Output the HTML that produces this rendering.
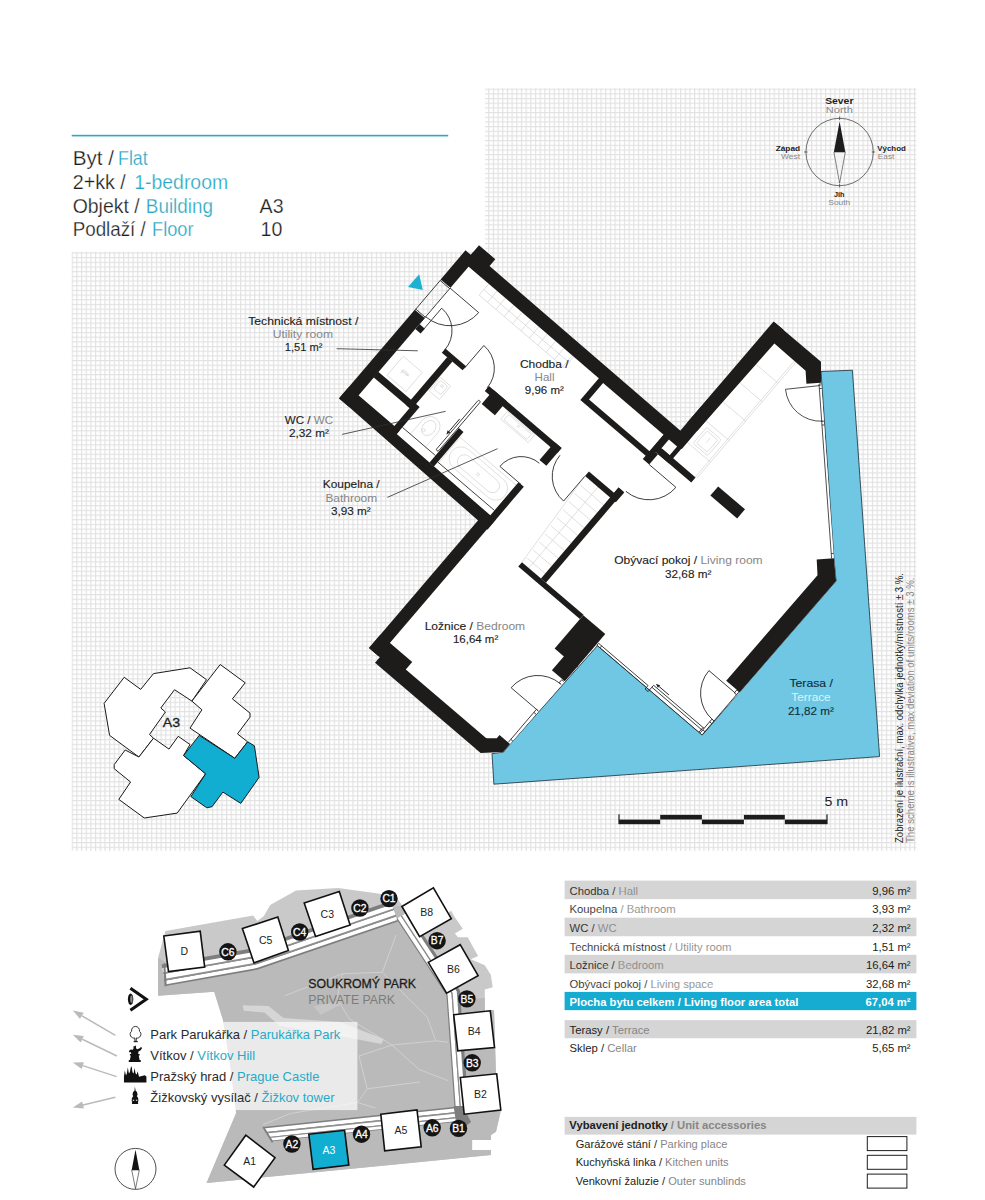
<!DOCTYPE html>
<html><head><meta charset="utf-8"><title>Flat A3</title>
<style>
html,body{margin:0;padding:0;background:#fff;}
body{width:985px;height:1200px;overflow:hidden;position:relative;font-family:"Liberation Sans",sans-serif;}
svg{position:absolute;left:0;top:0;}
text{font-family:"Liberation Sans",sans-serif;}
.k{fill:#1d1d1b}.g{fill:#868686}.c{fill:#2aa7c3}
.b{font-weight:bold}
.thin{fill:none;stroke:#222;stroke-width:0.8}
.furn{fill:none;stroke:#d2d2d2;stroke-width:0.65}
</style></head><body>
<svg width="985" height="1200" viewBox="0 0 985 1200">
<defs>
<pattern id="grid" x="71.6" y="88.6" width="4.68" height="4.68" patternUnits="userSpaceOnUse">
<path d="M0.5 0V4.68M0 0.5H4.68" stroke="#e2e2e2" stroke-width="1.4" fill="none"/>
</pattern>
</defs>
<rect width="985" height="1200" fill="#fff"/>

<polygon points="485,88.3 916.3,88.3 916.3,851 71.6,851 71.6,251.8 485,251.8" fill="url(#grid)"/>
<rect x="71.7" y="134.8" width="376.5" height="1.6" fill="#2aa9c3"/>
<text x="72.7" y="165.1" font-size="19.6" class="k" textLength="41.4" lengthAdjust="spacingAndGlyphs" stroke="#fff" stroke-width="0.25" paint-order="fill stroke">Byt /</text>
<text x="118.0" y="165.1" font-size="19.6" class="c" textLength="29.7" lengthAdjust="spacingAndGlyphs" stroke="#fff" stroke-width="0.25" paint-order="fill stroke">Flat</text>
<text x="72.7" y="188.8" font-size="19.6" class="k" textLength="53.1" lengthAdjust="spacingAndGlyphs" stroke="#fff" stroke-width="0.25" paint-order="fill stroke">2+kk /</text>
<text x="134.3" y="188.8" font-size="19.6" class="c" textLength="93.8" lengthAdjust="spacingAndGlyphs" stroke="#fff" stroke-width="0.25" paint-order="fill stroke">1-bedroom</text>
<text x="72.7" y="212.5" font-size="19.6" class="k" textLength="67" lengthAdjust="spacingAndGlyphs" stroke="#fff" stroke-width="0.25" paint-order="fill stroke">Objekt /</text>
<text x="145.8" y="212.5" font-size="19.6" class="c" textLength="67.2" lengthAdjust="spacingAndGlyphs" stroke="#fff" stroke-width="0.25" paint-order="fill stroke">Building</text>
<text x="259.6" y="212.5" font-size="19.6" class="k" text-anchor="start" stroke="#fff" stroke-width="0.25" paint-order="fill stroke">A3</text>
<text x="72.7" y="236.2" font-size="19.6" class="k" textLength="73.1" lengthAdjust="spacingAndGlyphs" stroke="#fff" stroke-width="0.25" paint-order="fill stroke">Podlaží /</text>
<text x="152.1" y="236.2" font-size="19.6" class="c" textLength="41.4" lengthAdjust="spacingAndGlyphs" stroke="#fff" stroke-width="0.25" paint-order="fill stroke">Floor</text>
<text x="282.4" y="236.2" font-size="19.6" class="k" text-anchor="end" stroke="#fff" stroke-width="0.25" paint-order="fill stroke">10</text>
<polygon points="597.5,645.6 702.5,734.8 836.1,581.0 833.9,558.3 821.0,371.5 852.4,370.2 879.6,756.6 493.9,784.2 492.0,753.7 503.4,752.1 510.2,744.0" fill="#6fc7e3" stroke="#1b2a33" stroke-width="0.8" stroke-linejoin="miter"/>
<polygon points="465.5,250.3 470.8,254.8 479.0,245.2 495.3,259.2 489.5,266.0 680.2,430.8 774.7,322.4 821.0,361.7 821.0,382.8 833.9,558.3 836.1,581.0 739.7,692.2 702.0,734.4 596.7,644.5 510.1,743.9 503.4,752.1 480.6,753.2 375.0,662.8 379.7,657.3 369.0,648.1 478.3,520.6 339.0,398.3 414.8,309.7 424.4,317.9 450.3,287.6 440.6,279.4" fill="#fff"/>
<g class="furn" transform="rotate(40.5)">
<path d="M556,-101.5V-86.8H668V-101.5M556,-94H668"/>
<path d="M567,-101.5V-86.8M578,-101.5V-86.8M589,-101.5V-86.8M600,-101.5V-86.8M611,-101.5V-86.8M622,-101.5V-86.8M633,-101.5V-86.8M644,-101.5V-86.8M655,-101.5V-86.8M666,-101.5V-86.8"/>
<path d="M840.5,-241.5V-89M838.5,-241.5V-89"/>
<path d="M810,-214H840.5M810,-189.5H840.5M810,-164H840.5M810,-138.5H840.5M810,-110H840.5"/>
<rect x="815" y="-134" width="19" height="21" rx="1.5"/><rect x="817.5" y="-131.5" width="14" height="16" rx="1"/><path d="M824.5,-128v6"/>
<path d="M754,-18L762,88.5M771,-18V88.5"/>
<path d="M756.8,-8H787M757.5,2H787M758.2,12H787M759.0,22H787M759.8,32H787M760.5,42H787M761.2,52H787M762.0,62H787M762.8,72H787M763.5,82H787"/>
<path d="M634,67V33.7H707.5"/><rect x="636.5" y="37.6" width="69.5" height="23.6" rx="11.8"/><rect x="646" y="42.5" width="51" height="14" rx="7"/><circle cx="671.7" cy="50.3" r="1.4"/>
<path d="M633,67H707.5" stroke="#222" stroke-width="0.8"/>
<rect x="653" y="-16.5" width="36" height="10"/><rect x="656" y="-15" width="30" height="7" rx="1"/><circle cx="671" cy="-12.5" r="1"/>
<path d="M594,63.6V45a10,10 0 0 1 20,0V63.6"/><ellipse cx="604" cy="47" rx="6.3" ry="8.3"/><circle cx="601.5" cy="52" r="1.6"/>
<rect x="580" y="1" width="13.5" height="17.5" rx="1"/><rect x="582" y="3" width="9.5" height="11" rx="2"/><circle cx="586.8" cy="6.5" r="1.3"/>
<rect x="538" y="9" width="25" height="25"/>
<path d="M583.5,63.6H627" stroke="#222" stroke-width="0.8"/>
</g>
<text x="400.9" y="371.3" font-size="5.5" fill="#c6c6c6" transform="rotate(40.5 400.9 371.3)">p/w</text>
<g fill="#1e1c1b">
<g transform="rotate(40.5)">
<rect x="516.5" y="-112" width="13.0" height="38.3"/>
<rect x="523.5" y="-124.6" width="21.5" height="22.6"/>
<polygon points="523.5,-115.8 809.5,-114.3 809.5,-101 523.5,-101.7"/>
<rect x="516.5" y="-33.9" width="13.0" height="116.7"/>
<rect x="529.5" y="-26" width="7.0" height="6.5"/>
<polygon points="516.5,67.7 583.5,67.7 583.5,72.3 707.5,73.4 714.5,73.4 714.5,86 702,85.3 516.5,82.7"/>
<rect x="529" y="37" width="49.8" height="7.3"/>
<rect x="572" y="-19" width="6.8" height="63.3"/>
<rect x="565" y="-24.2" width="27.3" height="5.4"/>
<rect x="576.5" y="37" width="7.0" height="36.0"/>
<rect x="622.5" y="-24" width="95.5" height="6.4"/>
<rect x="628.6" y="-24" width="17.4" height="18.3"/>
<rect x="709" y="-24" width="9.0" height="23.4"/>
<rect x="627" y="27.5" width="6.0" height="45.5"/>
<rect x="707.5" y="30" width="7.0" height="56.0"/>
<rect x="701.5" y="82.5" width="12.5" height="170.7"/>
<rect x="701.5" y="235.7" width="41.9" height="17.5"/>
<rect x="715.6" y="245.5" width="134.4" height="15.0"/>
<polygon points="849,245.5 849.3,245.5 857.2,238.7 857.2,234.5 871,234.5 871.2,245 854.6,260.5 849,260.5"/>
<rect x="701" y="-103" width="91.0" height="30.2"/>
<rect x="707.3" y="-100.5" width="79.6" height="21.7" fill="#fff"/>
<rect x="787" y="-103" width="22.5" height="21.0"/>
<rect x="794" y="-100.3" width="10.8" height="11.5" fill="#fff"/>
<rect x="795" y="-88.7" width="44.0" height="6.7"/>
<rect x="786.9" y="-82" width="8.4" height="13.6"/>
<rect x="797" y="-258" width="13.0" height="156.3"/>
<rect x="754" y="-24" width="39.5" height="6.0"/>
<rect x="787" y="-31" width="7.5" height="13.0"/>
<rect x="787" y="-31" width="6.5" height="119.5"/>
<rect x="762" y="88.5" width="81.0" height="5.7"/>
<rect x="843" y="89" width="29.0" height="44.0"/>
<rect x="855" y="131" width="17.0" height="20.3"/>
<rect x="862" y="-96.5" width="35.3" height="12.0"/>
</g>
<polygon points="774.7,322.4 821.0,361.7 821.0,382.8 806.4,383.7 805.6,370.7 774.4,343.5 697.1,431.0 687.2,422.6"/>
<polygon points="816.7,559.4 833.9,558.3 836.1,581.0 739.7,692.2 726.2,680.7 817.5,575.3"/>
</g>
<g class="thin" transform="rotate(40.5)">
<path d="M529.4,-73.2L567,-73.2A37.6,37.6 0 0 1 529.4,-35.6"/>
<path d="M516.9,-73.7V-33.9M529.4,-73.7V-26M529.4,-72.6H516.9M529.4,-35H516.9"/>
<path d="M536,-23L536,-52.5A29.5,29.5 0 0 1 565.5,-23"/>
<path d="M592.3,-21.5L592.3,-51.5A30.0,30.0 0 0 1 622.3,-21.5"/>
<path d="M711,30L683,30A28.0,28.0 0 0 1 711,2"/>
<path d="M754,-17.5L754,15A32.5,32.5 0 0 1 721.5,-17.5"/>
<path d="M795,-68.4L830.5,-68.4A35.5,35.5 0 0 1 795,-32.9"/>
<path d="M870.3,191L835.3,191A35.0,35.0 0 0 1 870.3,156"/>
<path d="M868.6,191V234.4M868.6,152V156M868.6,191h2.8M868.6,195h2.8M868.6,230.5h2.8M868.6,152h2.8M868.6,156h2.8"/>
<path d="M1009.6,49.5L974.6,49.5A35.0,35.0 0 0 0 1009.6,84.5"/>
<path d="M1008.4,84.5V102.5M1011.2,46V102.5M1008.4,46V50M1008.4,46h2.8M1008.4,50h2.8M1008.4,84.5h2.8M1008.4,88h2.8M1008.4,98.5h2.8"/>
<path d="M873,100.4H938M873,103H1011.2M942,96.6H1008.4M942,99.2H1008.4M938,100.4v4.6h4v-8.4M873,100.4v2.6M877,100.4v2.6M1007,96.6v6"/>
<path d="M944,94H960" stroke-width="0.9"/><path d="M943,94l4,-1.8v3.6z" fill="#222" stroke="none"/>
<rect x="623.6" y="-6.7" width="2.7" height="65.6" rx="1.2"/>
<path d="M621.6,20V38" stroke-width="0.9"/><path d="M621.6,40.5l-1.7,-4h3.4z" fill="#222" stroke="none"/>
</g>
<g class="thin">
<path d="M820.5,385.5L785.5,389.3A35.4,35.4 0 0 0 822.6,421.2"/>
<path d="M819,384L831.6,558.6M819,384h2.4M819.4,388.5h2.4M821.6,421.2h2.4M821.9,425h2.4M831.2,553.5h2.4"/>
</g>
<text x="303.3" y="324.8" font-size="10.8" class="k" text-anchor="middle" textLength="110" lengthAdjust="spacingAndGlyphs" stroke="#1d1d1b" stroke-width="0.12">Technická místnost /</text>
<text x="302.9" y="338.2" font-size="10.8" class="g" text-anchor="middle" textLength="60.5" lengthAdjust="spacingAndGlyphs">Utility room</text>
<text x="303.6" y="351.2" font-size="10.8" class="k" text-anchor="middle" textLength="37.6" lengthAdjust="spacingAndGlyphs" stroke="#1d1d1b" stroke-width="0.12">1,51 m²</text>
<text x="309" y="423.9" font-size="10.8" class="k" text-anchor="middle" textLength="48.3" lengthAdjust="spacingAndGlyphs" stroke="#1d1d1b" stroke-width="0.12">WC / <tspan class="g" stroke="none">WC</tspan></text>
<text x="308.9" y="437.3" font-size="10.8" class="k" text-anchor="middle" textLength="40" lengthAdjust="spacingAndGlyphs" stroke="#1d1d1b" stroke-width="0.12">2,32 m²</text>
<text x="351.2" y="488.4" font-size="10.8" class="k" text-anchor="middle" textLength="56.8" lengthAdjust="spacingAndGlyphs" stroke="#1d1d1b" stroke-width="0.12">Koupelna /</text>
<text x="351.3" y="502" font-size="10.8" class="g" text-anchor="middle" textLength="51.8" lengthAdjust="spacingAndGlyphs">Bathroom</text>
<text x="350.8" y="515.2" font-size="10.8" class="k" text-anchor="middle" textLength="39.8" lengthAdjust="spacingAndGlyphs" stroke="#1d1d1b" stroke-width="0.12">3,93 m²</text>
<text x="544.3" y="367.8" font-size="10.8" class="k" text-anchor="middle" textLength="48.7" lengthAdjust="spacingAndGlyphs" stroke="#1d1d1b" stroke-width="0.12">Chodba /</text>
<text x="544.5" y="380.8" font-size="10.8" class="g" text-anchor="middle" textLength="20" lengthAdjust="spacingAndGlyphs">Hall</text>
<text x="544.3" y="394.1" font-size="10.8" class="k" text-anchor="middle" textLength="39" lengthAdjust="spacingAndGlyphs" stroke="#1d1d1b" stroke-width="0.12">9,96 m²</text>
<text x="688.4" y="563.8" font-size="10.8" class="k" text-anchor="middle" textLength="148.4" lengthAdjust="spacingAndGlyphs" stroke="#1d1d1b" stroke-width="0.12">Obývací pokoj / <tspan class="g" stroke="none">Living room</tspan></text>
<text x="688.2" y="577.8" font-size="10.8" class="k" text-anchor="middle" textLength="46.3" lengthAdjust="spacingAndGlyphs" stroke="#1d1d1b" stroke-width="0.12">32,68 m²</text>
<text x="474.9" y="629.5" font-size="10.8" class="k" text-anchor="middle" textLength="100.5" lengthAdjust="spacingAndGlyphs" stroke="#1d1d1b" stroke-width="0.12">Ložnice / <tspan class="g" stroke="none">Bedroom</tspan></text>
<text x="475.6" y="642.6" font-size="10.8" class="k" text-anchor="middle" textLength="45.3" lengthAdjust="spacingAndGlyphs" stroke="#1d1d1b" stroke-width="0.12">16,64 m²</text>
<text x="811.2" y="687.1" font-size="10.8" fill="#0e2f40" stroke="#0e2f40" stroke-width="0.12" text-anchor="middle" textLength="43.5" lengthAdjust="spacingAndGlyphs">Terasa /</text>
<text x="811" y="701.4" font-size="10.8" fill="#dff3fa" text-anchor="middle" textLength="39.3" lengthAdjust="spacingAndGlyphs">Terrace</text>
<text x="810.9" y="715.1" font-size="10.8" fill="#0e2f40" stroke="#0e2f40" stroke-width="0.12" text-anchor="middle" textLength="46" lengthAdjust="spacingAndGlyphs">21,82 m²</text>
<path d="M336.6,348.7L417.8,350.8M342.1,434.4L445.6,411.3M387.4,497.4L497.5,448.7" fill="none" stroke="#2e2e2e" stroke-width="0.8"/>
<polygon points="419.2,274.3 408,286.9 422.8,289.9" fill="#1fb1d1"/>
<g fill="#1e1c1b"><rect x="618.4" y="814.3" width="1.2" height="9.8"/><rect x="826.4" y="814.3" width="1.2" height="9.8"/>
<rect x="619" y="819.6" width="41.2" height="4.6"/>
<rect x="660.2" y="814.9" width="41.7" height="4.6"/>
<rect x="701.9" y="819.6" width="42.0" height="4.6"/>
<rect x="743.9" y="814.9" width="40.9" height="4.6"/>
<rect x="784.8" y="819.6" width="42.2" height="4.6"/>
</g>
<text x="824.4" y="806.4" font-size="13" class="k" text-anchor="start" textLength="23.7" lengthAdjust="spacingAndGlyphs">5 m</text>
<text transform="translate(902.7,843) rotate(-90)" font-size="10.2" class="k" textLength="270" lengthAdjust="spacingAndGlyphs">Zobrazení je ilustrační, max. odchylka jednotky/místností ± 3 %.</text>
<text transform="translate(913.8,843) rotate(-90)" font-size="10.2" class="g" textLength="265.5" lengthAdjust="spacingAndGlyphs">The scheme is illustrative, max deviation of units/rooms ± 3 %.</text>
<g fill="none" stroke="#333" stroke-width="0.7"><circle cx="839.6" cy="152" r="33.7"/><path d="M839.6,116.5v3.5M839.6,184v3.5M804,152h3.5M871.7,152h3.5"/></g>
<polygon points="839.6,121.4 833.9,152 845.3,152" fill="#1e1c1b"/>
<polygon points="839.6,183.2 833.9,152 845.3,152" fill="#f4f4f4" stroke="#333" stroke-width="0.6"/>
<text x="839.3" y="103.6" font-size="9.7" class="k b" text-anchor="middle" textLength="28.3" lengthAdjust="spacingAndGlyphs">Sever</text>
<text x="839.3" y="113.3" font-size="9.7" class="g" text-anchor="middle" textLength="27" lengthAdjust="spacingAndGlyphs">North</text>
<text x="800.1" y="150.7" font-size="7.9" class="k b" text-anchor="end" textLength="24.4" lengthAdjust="spacingAndGlyphs">Západ</text>
<text x="800.1" y="158.8" font-size="7.9" class="g" text-anchor="end" textLength="19" lengthAdjust="spacingAndGlyphs">West</text>
<text x="877.3" y="150.7" font-size="7.9" class="k b" text-anchor="start" textLength="28.5" lengthAdjust="spacingAndGlyphs">Východ</text>
<text x="877.8" y="158.8" font-size="7.9" class="g" text-anchor="start" textLength="16.5" lengthAdjust="spacingAndGlyphs">East</text>
<text x="839.3" y="196.5" font-size="7.9" class="k b" text-anchor="middle" textLength="10.5" lengthAdjust="spacingAndGlyphs">Jih</text>
<text x="839.3" y="204.8" font-size="7.9" class="g" text-anchor="middle" textLength="22" lengthAdjust="spacingAndGlyphs">South</text>
<polygon points="124.2,677.3 140.7,689.4 153.5,673.6 190.0,667.8 206.5,679.7 191.9,701.1 174.5,689.7 160.8,708.0 165.4,712.0 149.5,734.5 153.5,738.2 138.9,757.0 109.6,735.4 104.1,703.4" fill="#fff" stroke="#1a1a1a" stroke-width="1" stroke-linejoin="round"/>
<polygon points="125.2,750.0 114.2,764.6 114.2,768.7 130.6,782.0 118.8,799.4 144.3,818.0 177.2,813.1 205.6,773.8 183.6,755.5 190.0,744.5 178.2,736.3 169.0,749.1 153.5,738.2 138.9,757.0" fill="#fff" stroke="#1a1a1a" stroke-width="1" stroke-linejoin="round"/>
<polygon points="220.2,664.5 245.2,682.8 232.4,698.9 250.0,713.1 250.0,717.1 237.5,733.9 247.6,741.8 234.8,758.3 190.0,728.1 201.9,709.8 191.9,701.1" fill="#fff" stroke="#1a1a1a" stroke-width="1" stroke-linejoin="round"/>
<polygon points="199.2,735.4 234.8,758.3 247.6,741.8 254.4,745.8 259.1,777.4 240.8,803.4 222.9,792.1 212.0,806.7 206.8,807.8 190.9,796.6 205.6,773.8 183.6,755.5" fill="#12aed2" stroke="#1a1a1a" stroke-width="1" stroke-linejoin="round"/>
<text x="162.8" y="727.2" font-size="12" class="k" stroke="#1d1d1b" stroke-width="0.3" textLength="17.3" lengthAdjust="spacingAndGlyphs">A3</text>
<polygon points="158.1,957.7 165.4,930.9 253.2,915.4 257.2,921.1 263.7,916.2 270.2,904.9 296,890.6 338,888 378,893.5 396,897 402.5,905.8 440,920 451,910.5 454.3,916.5 462.8,928.7 454.9,933.6 458,937.3 467.7,937.3 478.1,956.1 470.8,959.2 484.8,965.3 490.9,975 492.7,987.2 484.8,989.6 484.8,1011 494,1010 496,1075 501,1110 496,1131.7 491,1135 491,1155 380,1166 206.5,1183 236,1113 230,1064 223,1020 214.2,991.8 158.1,995.8" fill="#c9c9c9"/>
<polygon points="158.1,957.7 165,962 250,952 397,906 403,906 449,985 458,1000 484.8,998 484.8,1011 494,1010 496,1075 501,1110 496,1131.7 491,1135 491,1155 380,1166 206.5,1183 236.3,1113 230,1064 223,1020 214.2,991.8 158.1,995.8" fill="#bababa"/>
<rect x="472.2" y="1140" width="19" height="10" fill="#fff"/>
<polygon points="165.4,986.1 257.2,969.8 397.9,921.5 390.8,900.9 251.7,948.6 161.6,964.6" fill="#7e7e7e"/><polygon points="165.1,984.4 256.8,968.1 397.3,919.9 396.1,916.4 255.8,964.6 164.5,980.8" fill="#fff"/><polygon points="164.5,980.8 255.8,964.6 396.1,916.4 395.6,914.7 255.4,962.8 164.1,979.0" fill="#8e8e8e"/><polygon points="164.1,979.0 255.4,962.8 395.6,914.7 393.9,910.0 254.1,958.0 163.3,974.1" fill="#fff"/><polygon points="163.3,974.1 254.1,958.0 393.9,910.0 393.4,908.4 253.7,956.3 163.0,972.4" fill="#8e8e8e"/><polygon points="163.0,972.4 253.7,956.3 393.4,908.4 392.0,904.4 252.7,952.2 162.2,968.3" fill="#fff"/>
<polygon points="396.5,919.0 446.4,995.1 454.5,1107.0 468.3,1106.0 459.9,990.5 408.0,911.4" fill="#7e7e7e"/><polygon points="397.5,918.3 447.6,994.7 455.7,1106.9 459.7,1106.6 451.5,993.4 400.8,916.1" fill="#fff"/><polygon points="400.8,916.1 451.5,993.4 459.7,1106.6 460.9,1106.5 452.7,993.0 401.9,915.5" fill="#8e8e8e"/><polygon points="401.9,915.5 452.7,993.0 460.9,1106.5 465.1,1106.2 456.8,991.6 405.4,913.2" fill="#fff"/>
<polygon points="456.0,1106.8 263.4,1127.1 265.0,1142.0 457.6,1121.7" fill="#7e7e7e"/><polygon points="456.1,1108.2 263.5,1128.5 263.9,1132.3 456.5,1112.0" fill="#fff"/><polygon points="456.5,1112.0 263.9,1132.3 264.1,1133.7 456.7,1113.4" fill="#8e8e8e"/><polygon points="456.7,1113.4 264.1,1133.7 264.5,1137.4 457.1,1117.1" fill="#fff"/><polygon points="457.1,1117.1 264.5,1137.4 264.6,1138.6 457.2,1118.3" fill="#8e8e8e"/><polygon points="457.2,1118.3 264.6,1138.6 264.9,1141.2 457.5,1120.9" fill="#fff"/>
<polygon points="453.5,1106 463,1106 471,1122 466,1126 456,1122" fill="#7e7e7e"/>
<polygon points="262,1126.8 263.4,1126.6 272.9,1142.3 262,1144" fill="#bababa"/>
<path d="M263.2,1127L272.6,1142.3" stroke="#7e7e7e" stroke-width="1.8" fill="none"/>
<polygon points="163.2,963.4 165.2,963.2 166.8,986 164.6,986.4" fill="#7e7e7e"/>
<g fill="none" stroke="#d2d2d2" stroke-width="0.9"><path d="M285,995.6L342.5,973.7L382.3,972.3L408.3,998.4L427.5,1017.6L435.7,1040.9L448,1042.2M342.5,973.7L337,998.4L349.4,1018.9L391.9,1045L435.7,1040.9M391.9,1045L419.3,1069.6L448.1,1080.6M359,1056L391.9,1045M359,1056L367.2,1088.8L357.6,1102.5M263,1124.5L290.5,1113.5L357.6,1102.5L375.4,1108M367.2,1088.8L420,1082M382.3,972.3L396,935"/></g>
<polygon points="313.7,1006.6 338.4,1001.1 342.5,1003.9 320.6,1014.8" fill="#c6c6c6"/>
<polygon points="242.5,1005.2 268.5,1006.1 283.6,1018.1 339.8,1022 383.7,1038.9 381.5,1043.9 338.4,1035.7 279.5,1025.8 264.4,1012.6 243.9,1010.7" fill="#d6d6d6"/>
<rect x="120" y="1021.9" width="237.4" height="88.2" fill="#fff" fill-opacity="0.69"/>
<polygon points="163.8,936.0 200.2,931.2 204.7,967.1 168.5,971.6" fill="#fff" stroke="#111" stroke-width="1.6" stroke-linejoin="miter"/><text x="184.3" y="955.3" font-size="10.5" fill="#1d1d1b" text-anchor="middle">D</text>
<polygon points="242.4,928.6 277.8,917.0 288.4,950.5 254.0,962.9" fill="#fff" stroke="#111" stroke-width="1.6" stroke-linejoin="miter"/><text x="265.6" y="943.5" font-size="10.5" fill="#1d1d1b" text-anchor="middle">C5</text>
<polygon points="304.2,903.0 339.3,891.6 350.1,924.9 315.6,936.5" fill="#fff" stroke="#111" stroke-width="1.6" stroke-linejoin="miter"/><text x="327.3" y="917.8" font-size="10.5" fill="#1d1d1b" text-anchor="middle">C3</text>
<polygon points="401.9,906.5 433.4,887.9 451.3,918.7 419.6,936.6" fill="#fff" stroke="#111" stroke-width="1.6" stroke-linejoin="miter"/><text x="426.6" y="916.2" font-size="10.5" fill="#1d1d1b" text-anchor="middle">B8</text>
<polygon points="428.3,962.4 460.2,944.7 478.1,975.6 446.6,993.2" fill="#fff" stroke="#111" stroke-width="1.6" stroke-linejoin="miter"/><text x="453.3" y="972.8" font-size="10.5" fill="#1d1d1b" text-anchor="middle">B6</text>
<polygon points="453.7,1014.7 490.3,1010.8 494.5,1047.5 457.8,1050.8" fill="#fff" stroke="#111" stroke-width="1.6" stroke-linejoin="miter"/><text x="474.1" y="1034.8" font-size="10.5" fill="#1d1d1b" text-anchor="middle">B4</text>
<polygon points="460.3,1077.5 496.7,1073.8 500.8,1110.0 464.2,1114.2" fill="#fff" stroke="#111" stroke-width="1.6" stroke-linejoin="miter"/><text x="480.5" y="1097.7" font-size="10.5" fill="#1d1d1b" text-anchor="middle">B2</text>
<polygon points="380.8,1114.2 417.0,1110.0 421.2,1146.7 384.7,1150.8" fill="#fff" stroke="#111" stroke-width="1.6" stroke-linejoin="miter"/><text x="400.9" y="1134.2" font-size="10.5" fill="#1d1d1b" text-anchor="middle">A5</text>
<polygon points="308.8,1134.2 344.6,1130.3 348.8,1165.1 313.1,1169.3" fill="#12aed2" stroke="#111" stroke-width="1.6" stroke-linejoin="miter"/><text x="328.8" y="1153.5" font-size="10.5" fill="#fff" text-anchor="middle">A3</text>
<polygon points="224.3,1165.1 245.8,1135.2 275.0,1157.6 253.7,1187.0" fill="#fff" stroke="#111" stroke-width="1.6" stroke-linejoin="miter"/><text x="249.7" y="1165.0" font-size="10.5" fill="#1d1d1b" text-anchor="middle">A1</text>
<circle cx="227.9" cy="951.8" r="8.7" fill="#141414"/><text x="227.9" y="955.5" font-size="10.3" fill="#fff" text-anchor="middle" stroke="#fff" stroke-width="0.3">C6</text>
<circle cx="299.7" cy="932" r="8.7" fill="#141414"/><text x="299.7" y="935.7" font-size="10.3" fill="#fff" text-anchor="middle" stroke="#fff" stroke-width="0.3">C4</text>
<circle cx="359.9" cy="908" r="8.7" fill="#141414"/><text x="359.9" y="911.7" font-size="10.3" fill="#fff" text-anchor="middle" stroke="#fff" stroke-width="0.3">C2</text>
<circle cx="389" cy="898.6" r="8.7" fill="#141414"/><text x="389" y="902.3" font-size="10.3" fill="#fff" text-anchor="middle" stroke="#fff" stroke-width="0.3">C1</text>
<circle cx="437.1" cy="940.7" r="8.7" fill="#141414"/><text x="437.1" y="944.4" font-size="10.3" fill="#fff" text-anchor="middle" stroke="#fff" stroke-width="0.3">B7</text>
<circle cx="466.9" cy="998.9" r="8.7" fill="#141414"/><text x="466.9" y="1002.6" font-size="10.3" fill="#fff" text-anchor="middle" stroke="#fff" stroke-width="0.3">B5</text>
<circle cx="472.2" cy="1062.8" r="8.7" fill="#141414"/><text x="472.2" y="1066.5" font-size="10.3" fill="#fff" text-anchor="middle" stroke="#fff" stroke-width="0.3">B3</text>
<circle cx="458.5" cy="1128.4" r="8.7" fill="#141414"/><text x="458.5" y="1132.1" font-size="10.3" fill="#fff" text-anchor="middle" stroke="#fff" stroke-width="0.3">B1</text>
<circle cx="432.2" cy="1127.8" r="8.7" fill="#141414"/><text x="432.2" y="1131.5" font-size="10.3" fill="#fff" text-anchor="middle" stroke="#fff" stroke-width="0.3">A6</text>
<circle cx="361.5" cy="1134.2" r="8.7" fill="#141414"/><text x="361.5" y="1137.9" font-size="10.3" fill="#fff" text-anchor="middle" stroke="#fff" stroke-width="0.3">A4</text>
<circle cx="291.9" cy="1144" r="8.7" fill="#141414"/><text x="291.9" y="1147.7" font-size="10.3" fill="#fff" text-anchor="middle" stroke="#fff" stroke-width="0.3">A2</text>
<text x="308.3" y="987.7" font-size="12.3" class="k" stroke="#1d1d1b" stroke-width="0.3">SOUKROMÝ PARK</text>
<text x="308.3" y="1003.6" font-size="12.3" fill="#7c7c7c">PRIVATE PARK</text>
<text x="150.3" y="1039.2" font-size="13" fill="#2b2b2b">Park Parukářka / <tspan fill="#25abc8">Parukářka Park</tspan></text>
<text x="150.3" y="1059.9" font-size="13" fill="#2b2b2b">Vítkov / <tspan fill="#25abc8">Vítkov Hill</tspan></text>
<text x="150.3" y="1081.1" font-size="13" fill="#2b2b2b">Pražský hrad / <tspan fill="#25abc8">Prague Castle</tspan></text>
<text x="150.3" y="1102.2" font-size="13" fill="#2b2b2b">Žižkovský vysílač / <tspan fill="#25abc8">Žižkov tower</tspan></text>
<path d="M115.4,1035.4L81.9,1015.8" stroke="#bababa" stroke-width="1.5" fill="none"/><polygon points="72.8,1010.5 83.7,1012.7 80.0,1018.9" fill="#bababa"/>
<path d="M116.9,1056L82.3,1039.3" stroke="#bababa" stroke-width="1.5" fill="none"/><polygon points="72.8,1034.7 83.8,1036.0 80.7,1042.5" fill="#bababa"/>
<path d="M116.6,1076.6L82.8,1065.6" stroke="#bababa" stroke-width="1.5" fill="none"/><polygon points="72.8,1062.4 83.9,1062.2 81.7,1069.1" fill="#bababa"/>
<path d="M115.4,1097.2L83.0,1105.0" stroke="#bababa" stroke-width="1.5" fill="none"/><polygon points="72.8,1107.5 82.2,1101.5 83.9,1108.5" fill="#bababa"/>
<path d="M130.4,988.2L146.2,999.2L130.4,1010.2" fill="none" stroke="#111" stroke-width="3.1" stroke-linejoin="miter"/><ellipse cx="130.6" cy="999.2" rx="2.7" ry="5.7" fill="#111"/><ellipse cx="131.4" cy="999.2" rx="1.2" ry="3.6" fill="#8a8a8a"/>
<g transform="translate(60,975) scale(0.14213)">
<path d="M531,362c-18,0 -30,16 -27,34c-10,6 -14,22 -7,33c6,12 18,17 29,14l1,24h9l1,-24c11,3 23,-2 29,-14c7,-11 3,-27 -7,-33c3,-18 -10,-34 -28,-34z" fill="#fff" stroke="#111" stroke-width="6"/><path d="M518,469h30" stroke="#111" stroke-width="7"/>
<path d="M484,612v-14h8l6,-32h-6v-10h10l-4,-14l-8,4l-6,-12l14,-10l14,2l6,-10l-2,-14h10l4,-8l6,10l-2,10l8,8l16,-4l12,-12l8,8l-12,18l-14,6l-2,18h10v10h-6l6,32h8v14z" fill="#111"/>
<path d="M450,757L450,715L456,672L464,705L470,697L477,650L485,693L492,683L498,650L504,642L510,685L518,693L524,655L532,693L540,700L546,678L552,700L556,716L596,705L608,715L608,757Z" fill="#111"/>
<path d="M527,785l5,30l10,8l4,22l-6,6l10,14l2,24l-8,4l2,16l-2,-1v-30h-10v30h-12v-30h-10v30l-2,1l2,-16l-8,-4l2,-24l10,-14l-6,-6l4,-22l10,-8z" fill="#111"/><path d="M506,908l2,-24h40l2,24z" fill="#111"/>
</g>
<circle cx="135.5" cy="1168.9" r="20.5" fill="#fff" stroke="#222" stroke-width="0.8"/>
<polygon points="135.5,1149.4 131.7,1170 139.3,1170" fill="#141414"/><polygon points="135.5,1188.8 131.7,1170 139.3,1170" fill="#fff" stroke="#222" stroke-width="0.6"/>
<rect x="564.6" y="880.6" width="351.8" height="18.55" fill="#d5d5d5"/>
<text x="569.5" y="894.8" font-size="11.3" class="k" stroke="#d5d5d5" stroke-width="0.12" paint-order="fill stroke">Chodba / <tspan class="g">Hall</tspan></text>
<text x="910.6" y="894.8" font-size="11.3" class="k" text-anchor="end">9,96 m²</text>
<text x="569.5" y="913.4" font-size="11.3" class="k" stroke="#fff" stroke-width="0.12" paint-order="fill stroke">Koupelna <tspan class="g">/ Bathroom</tspan></text>
<text x="910.6" y="913.4" font-size="11.3" class="k" text-anchor="end">3,93 m²</text>
<rect x="564.6" y="917.7" width="351.8" height="18.55" fill="#d5d5d5"/>
<text x="569.5" y="931.9" font-size="11.3" class="k" stroke="#d5d5d5" stroke-width="0.12" paint-order="fill stroke">WC / <tspan class="g">WC</tspan></text>
<text x="910.6" y="931.9" font-size="11.3" class="k" text-anchor="end">2,32 m²</text>
<text x="569.5" y="950.5" font-size="11.3" class="k" stroke="#fff" stroke-width="0.12" paint-order="fill stroke">Technická místnost <tspan class="g">/ Utility room</tspan></text>
<text x="910.6" y="950.5" font-size="11.3" class="k" text-anchor="end">1,51 m²</text>
<rect x="564.6" y="954.8" width="351.8" height="18.55" fill="#d5d5d5"/>
<text x="569.5" y="969.0" font-size="11.3" class="k" stroke="#d5d5d5" stroke-width="0.12" paint-order="fill stroke">Ložnice / <tspan class="g">Bedroom</tspan></text>
<text x="910.6" y="969.0" font-size="11.3" class="k" text-anchor="end">16,64 m²</text>
<text x="569.5" y="987.6" font-size="11.3" class="k" stroke="#fff" stroke-width="0.12" paint-order="fill stroke">Obývací pokoj / <tspan class="g">Living space</tspan></text>
<text x="910.6" y="987.6" font-size="11.3" class="k" text-anchor="end">32,68 m²</text>
<rect x="564.6" y="991.9" width="351.8" height="18.25" fill="#16abd0"/>
<text x="569.5" y="1005.6" font-size="11.25" fill="#fff" font-weight="bold">Plocha bytu celkem / Living floor area total</text>
<text x="910.6" y="1005.6" font-size="11.25" fill="#fff" font-weight="bold" text-anchor="end">67,04 m²</text>
<rect x="564.6" y="1020.1" width="351.8" height="18.150000000000002" fill="#d5d5d5"/>
<text x="569.5" y="1033.8" font-size="11.3" class="k">Terasy / <tspan class="g">Terrace</tspan></text>
<text x="910.6" y="1033.8" font-size="11.3" class="k" text-anchor="end">21,82 m²</text>
<text x="569.5" y="1052.4" font-size="11.3" class="k">Sklep / <tspan class="g">Cellar</tspan></text>
<text x="910.6" y="1052.4" font-size="11.3" class="k" text-anchor="end">5,65 m²</text>
<rect x="564.6" y="1116.9" width="351.8" height="17.7" fill="#d5d5d5"/>
<text x="569.3" y="1129.3" font-size="11.25" class="k" font-weight="bold">Vybavení jednotky <tspan class="g">/ Unit accessories</tspan></text>
<text x="575.7" y="1147.7" font-size="11.1" class="k">Garážové stání / <tspan class="g">Parking place</tspan></text>
<rect x="867.3" y="1136.6" width="39.6" height="14" fill="#fff" stroke="#1d1d1b" stroke-width="1"/>
<text x="575.7" y="1166.1" font-size="11.1" class="k">Kuchyňská linka / <tspan class="g">Kitchen units</tspan></text>
<rect x="867.3" y="1155.3" width="39.6" height="14" fill="#fff" stroke="#1d1d1b" stroke-width="1"/>
<text x="575.7" y="1184.5" font-size="11.1" class="k">Venkovní žaluzie / <tspan class="g">Outer sunblinds</tspan></text>
<rect x="867.3" y="1174.1" width="39.6" height="14" fill="#fff" stroke="#1d1d1b" stroke-width="1"/>
</svg></body></html>
